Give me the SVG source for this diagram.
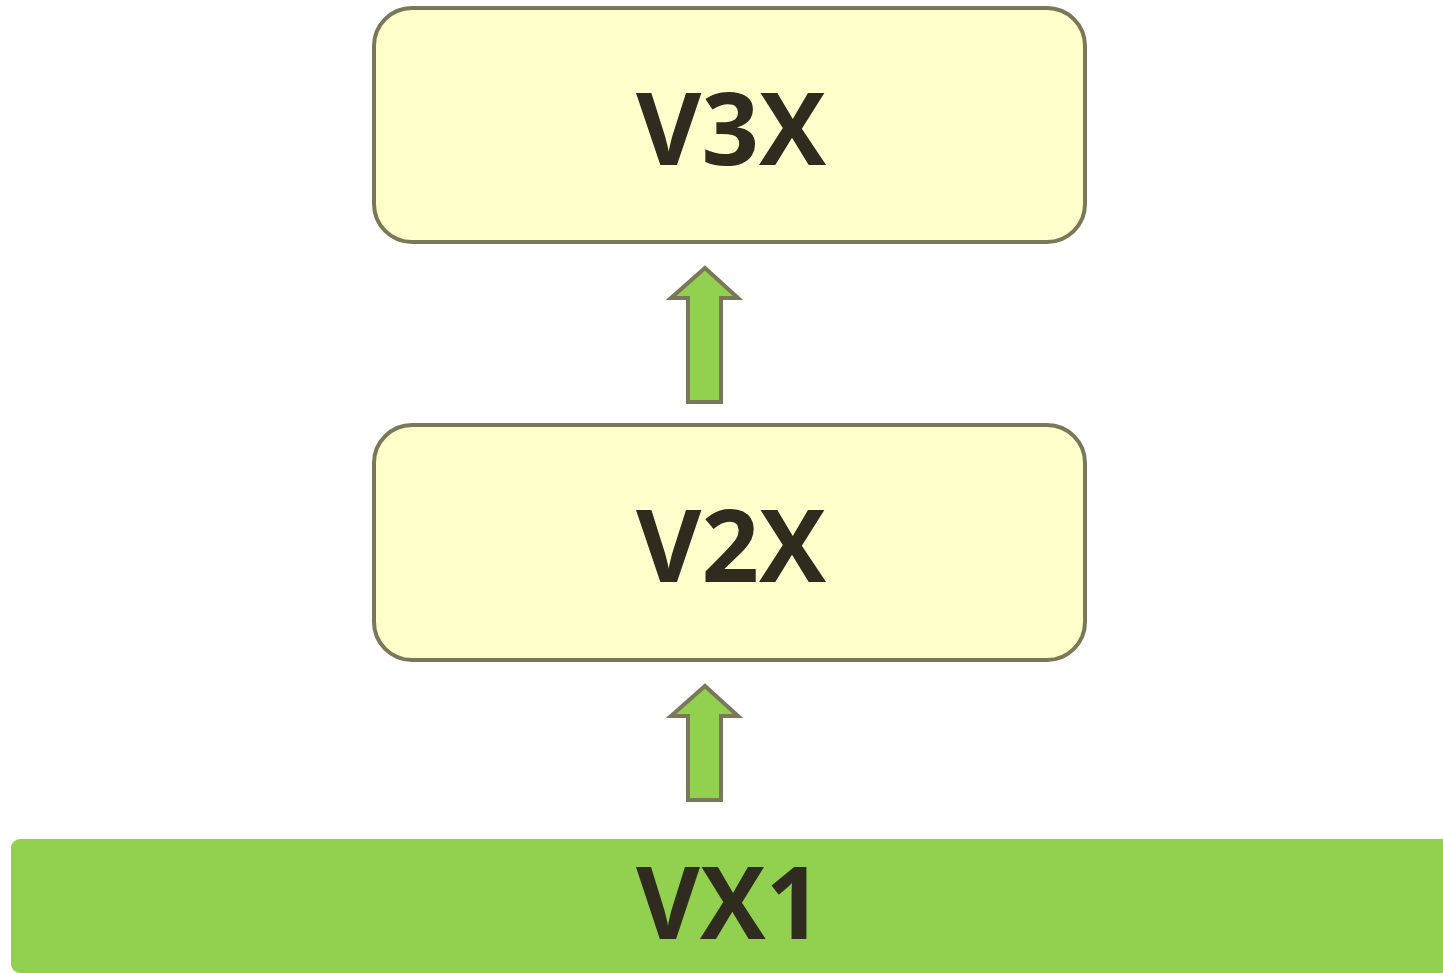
<svg xmlns="http://www.w3.org/2000/svg" width="1443" height="973" viewBox="0 0 1443 973">
<style>
.box{fill:#ffffcc;stroke:#7a7858;stroke-width:4}
.arrow{fill:#92d050;stroke:#7a7858;stroke-width:4;stroke-linejoin:miter}
.lbl{font-family:"Open Sans","Liberation Sans",sans-serif;font-weight:bold;font-size:100px;fill:#2f2b1f;text-anchor:middle}
</style>
<rect width="1443" height="973" fill="#ffffff"/>
<g id="connectors">
<path class="arrow" d="M705,268 L738,298 L721,298 L721,402 L688,402 L688,298 L671,298 Z"/>
<path class="arrow" d="M705,686 L738,716 L721,716 L721,800 L688,800 L688,716 L671,716 Z"/>
</g>
<g id="node-v3x">
<rect class="box" x="374" y="8" width="711" height="234" rx="38"/>
<text class="lbl" x="731" y="165" textLength="190" lengthAdjust="spacingAndGlyphs">V3X</text>
</g>
<g id="node-v2x">
<rect class="box" x="374" y="425" width="711" height="235" rx="38"/>
<text class="lbl" x="731" y="582" textLength="190" lengthAdjust="spacingAndGlyphs">V2X</text>
</g>
<g id="node-vx1">
<rect x="11" y="839" width="1450" height="134" rx="9" fill="#92d050"/>
<text class="lbl" x="729" y="939" textLength="186" lengthAdjust="spacingAndGlyphs">VX1</text>
</g>
</svg>
